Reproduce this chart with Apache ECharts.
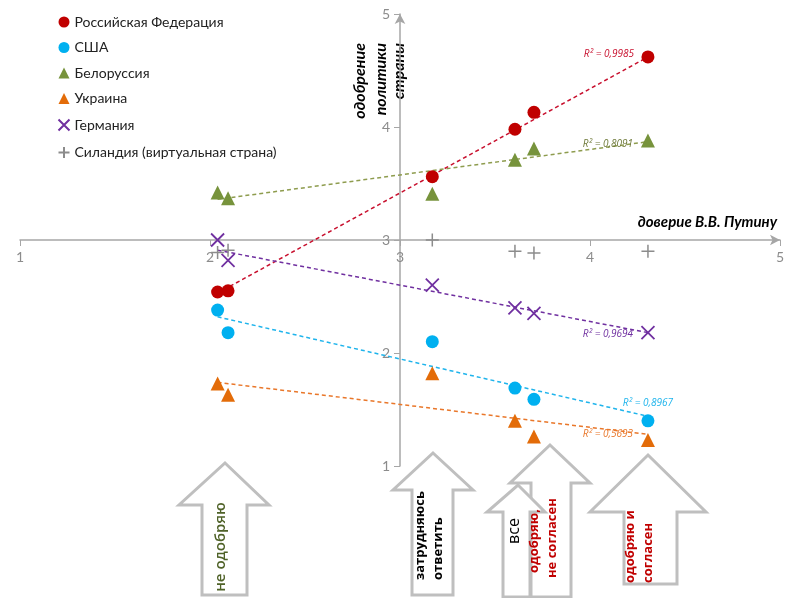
<!DOCTYPE html>
<html>
<head>
<meta charset="utf-8">
<script src="https://cdn.jsdelivr.net/npm/echarts@6/dist/echarts.min.js"></script>
<style>html,body{margin:0;padding:0;background:#fff;}#c{width:800px;height:598px;}</style>
</head>
<body>
<div id="c"></div>
<script>
// x = trust in V.V. Putin for each respondent group
var xVals = [2.04, 2.095, 3.17, 3.605, 3.705, 4.305];
var russia   = [2.54, 2.55, 3.56, 3.98, 4.13, 4.62];
var usa      = [2.38, 2.18, 2.10, 1.69, 1.59, 1.40];
var belarus  = [3.42, 3.37, 3.41, 3.71, 3.81, 3.88];
var ukraine  = [1.73, 1.63, 1.82, 1.40, 1.26, 1.23];
var germany  = [3.00, 2.82, 2.60, 2.40, 2.35, 2.18];
var silandia = [2.89, 2.91, 3.00, 2.90, 2.885, 2.90];
// trend line endpoints
var trendX = [2.04, 4.305];
var russiaTrend  = [2.53, 4.62];
var belarusTrend = [3.36, 3.87];
var germanyTrend = [2.91, 2.18];
var usaTrend     = [2.32, 1.44];
var ukraineTrend = [1.74, 1.28];
var r2 = {russia:'R² = 0,9985', belarus:'R² = 0,8091', germany:'R² = 0,9694', usa:'R² = 0,8967', ukraine:'R² = 0,5693'};
var names = ['Российская Федерация','США','Белоруссия','Украина','Германия','Силандия (виртуальная страна)'];

function pts(ys, xs){ return ys.map(function(y,i){return [(xs||xVals)[i], y];}); }

var C = {ru:'#c00000', us:'#00b0f0', by:'#77933c', ua:'#e36c09', de:'#7030a0', si:'#8c8c8c'};
var crossPath = 'path://M0,0L10,10M10,0L0,10';
var plusPath = 'path://M5,0L5,10M0,5L10,5';

function trend(ys, color){
  return {type:'line', data: pts(ys, trendX), symbol:'none', silent:true, z:1,
    lineStyle:{color:color, width:1.5, type:[4,3]}};
}

var chart = echarts.init(document.getElementById('c'));
var axisCol = '#a6a6a6';
chart.setOption({
  animation:false,
  grid:{left:20, right:20, top:14, bottom:132},
  legend:{
    orient:'vertical', left:56, top:15, padding:0, itemGap:11.5, itemWidth:11, itemHeight:11,
    data:names,
    textStyle:{fontFamily:'Lato', fontSize:14, lineHeight:14, color:'#222'}
  },
  xAxis:{type:'value', min:1, max:5, interval:1, position:'bottom', offset:-226,
    axisLine:{lineStyle:{color:axisCol, width:1.5}, symbol:['none','arrow'], symbolSize:[8,10]},
    axisTick:{show:true, length:6, lineStyle:{color:axisCol}},
    axisLabel:{color:'#8c8c8c', fontFamily:'Lato', fontSize:14, margin:10},
    splitLine:{show:false}},
  yAxis:{type:'value', min:1, max:5, interval:1, position:'left', offset:-380,
    axisLine:{show:true, lineStyle:{color:axisCol, width:1.5}, symbol:['none','arrow'], symbolSize:[8,10]},
    axisTick:{show:true, length:6, lineStyle:{color:axisCol}},
    axisLabel:{color:'#8c8c8c', fontFamily:'Lato', fontSize:14, margin:10},
    splitLine:{show:false}},
  series:[
    trend(russiaTrend, '#c8102e'),
    trend(belarusTrend, '#8e9c4e'),
    trend(germanyTrend, '#7030a0'),
    trend(usaTrend, '#1fb4ec'),
    trend(ukraineTrend, '#e9772a'),
    {name:names[0], type:'scatter', data:pts(russia), symbol:'circle', symbolSize:13, itemStyle:{color:C.ru, opacity:1}, z:3},
    {name:names[1], type:'scatter', data:pts(usa), symbol:'circle', symbolSize:13, itemStyle:{color:C.us, opacity:1}, z:3},
    {name:names[2], type:'scatter', data:pts(belarus), symbol:'triangle', symbolSize:14, itemStyle:{color:C.by, opacity:1}, z:3},
    {name:names[3], type:'scatter', data:pts(ukraine), symbol:'triangle', symbolSize:14, itemStyle:{color:C.ua, opacity:1}, z:3},
    {name:names[4], type:'scatter', data:pts(germany), symbol:crossPath, symbolSize:13, itemStyle:{color:'none', borderColor:C.de, borderWidth:1.8, opacity:1}, z:3},
    {name:names[5], type:'scatter', data:pts(silandia), symbol:plusPath, symbolSize:13, itemStyle:{color:'none', borderColor:C.si, borderWidth:1.5, opacity:1}, z:3}
  ]
});

// decorations
var g = [];
function r2t(txt, x, y, col){ g.push({type:'text', x:x, y:y, z:10, style:{text:txt, fill:col, font:'italic 10px "Open Sans"', align:'right', verticalAlign:'middle'}}); }
r2t(r2.russia, 634, 54, '#c8102e');
r2t(r2.belarus, 633, 144, '#6f7a3a');
r2t(r2.germany, 633, 334, '#7030a0');
r2t(r2.usa, 673, 403, '#1fb4ec');
r2t(r2.ukraine, 633, 434, '#e9772a');

// axis titles
g.push({type:'text', x:777, y:222, style:{text:'доверие В.В. Путину', fill:'#000', font:'italic bold 15px Lato', align:'right', verticalAlign:'middle'}});
[['одобрение',360],['политики',381],['страны',399]].forEach(function(a){
  g.push({type:'text', x:a[1], y:43, rotation:Math.PI/2, style:{text:a[0], fill:'#000', font:'italic bold 16px Lato', align:'right', verticalAlign:'middle'}});
});

// block arrows
function arrow(tipX, tipY, hl, hr, baseY, sl, sr, bottom){
  g.push({type:'polygon', z:20, shape:{points:[[tipX,tipY],[hr,baseY],[sr,baseY],[sr,bottom],[sl,bottom],[sl,baseY],[hl,baseY]]},
    style:{fill:'#fff', stroke:'#bfbfbf', lineWidth:3}});
}
function vtext(txt, x, y, align, font, col){
  g.push({type:'text', z:21, x:x, y:y, rotation:Math.PI/2, style:{text:txt, fill:col, font:font, align:align, verticalAlign:'middle'}});
}
arrow(225, 463, 179, 269, 505, 202, 247, 595);
vtext('не одобряю', 221, 547, 'center', '600 15px "Open Sans"', '#4f6228');
arrow(433, 453, 393, 473, 490, 412, 453, 595);
vtext('затрудняюсь', 420, 580, 'left', 'bold 13px "Open Sans"', '#000');
vtext('ответить', 438, 580, 'left', 'bold 13px "Open Sans"', '#000');
arrow(550, 445, 510, 590, 483, 531, 571, 597);
vtext('одобряю,', 534, 573, 'left', 'bold 13px "Open Sans"', '#c00000');
vtext('не согласен', 552, 578, 'left', 'bold 13px "Open Sans"', '#c00000');
arrow(518, 485, 487, 545, 512, 503, 530, 597);
vtext('все', 514, 531, 'center', '16px "Open Sans"', '#000');
arrow(648, 455, 590, 706, 512, 624, 677, 584);
vtext('одобряю и', 630, 583, 'left', 'bold 13px "Open Sans"', '#c00000');
vtext('согласен', 648, 583, 'left', 'bold 13px "Open Sans"', '#c00000');

chart.setOption({graphic:g});
</script>
</body>
</html>
